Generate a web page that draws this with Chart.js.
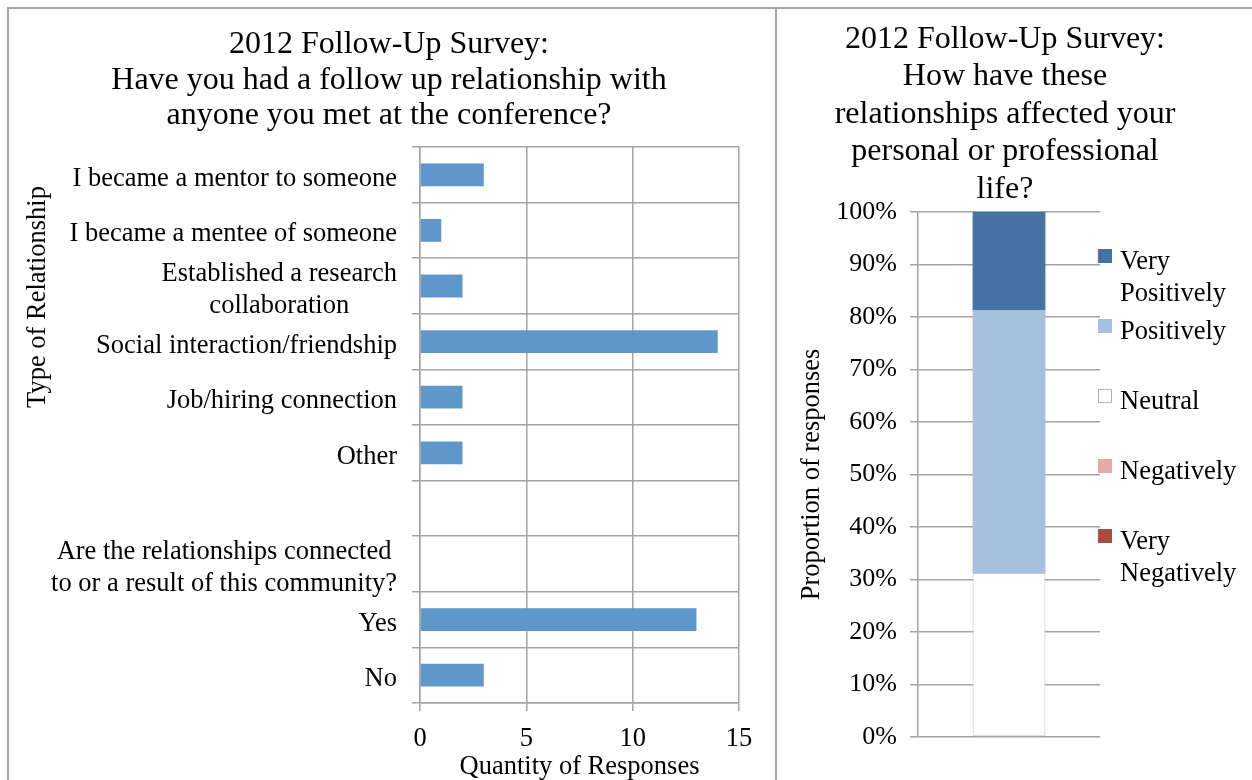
<!DOCTYPE html>
<html>
<head>
<meta charset="utf-8">
<script src="https://cdn.jsdelivr.net/npm/chart.js@4.4.1/dist/chart.umd.min.js"></script>
<style>
  body { margin: 0; background: #fff; }
  #page { position: absolute; left: 0; top: 0; width: 1252px; height: 780px; overflow: hidden; background: #fff; }
  .rule { position: absolute; background: #a6a6a6; }
  .box { position: absolute; }
  #legend { position: absolute; left: 0; top: 0; font-family: "Liberation Serif", "Times New Roman", serif; font-size: 26.5px; line-height: 32px; color: #000; }
  .item { position: absolute; left: 1098px; width: 150px; }
  .swatch { position: absolute; left: 0; top: 0; width: 14px; height: 14px; box-sizing: border-box; }
  .label { position: absolute; left: 22px; top: -5px; width: 126px; }
</style>
</head>
<body>
<div id="page">
  <div class="rule" style="left:7px; top:7px; width:1245px; height:2px"></div>
  <div class="rule" style="left:7px; top:7px; width:2px; height:773px"></div>
  <div class="rule" style="left:775px; top:7px; width:2px; height:773px"></div>
  <div class="box" style="left:11px; top:10px"><canvas id="leftChart" width="756" height="774"></canvas></div>
  <div class="box" style="left:778px; top:10px"><canvas id="rightChart" width="454" height="770"></canvas></div>
  <div id="legend"></div>
</div>
<script>
// ---- data: left chart (follow up relationships) ----
const categories = [
  ['I became a mentor to someone'],
  ['I became a mentee of someone'],
  ['Established a research', 'collaboration'],
  ['Social interaction/friendship'],
  ['Job/hiring connection'],
  ['Other'],
  [''],
  ['Are the relationships connected', 'to or a result of this community?'],
  ['Yes'],
  ['No']
];
const responseCounts = [3, 1, 2, 14, 2, 2, null, null, 13, 3];
const quantityTicks = [0, 5, 10, 15];

// ---- data: right chart (effect of relationships) ----
const ratingNames = ['Very Negatively', 'Negatively', 'Neutral', 'Positively', 'Very Positively'];
const ratingShares = [0, 0, 31.25, 50, 18.75];
const percentTicks = [0, 10, 20, 30, 40, 50, 60, 70, 80, 90, 100];

// colours per rating, same order as ratingNames
const ratingColors = ['#A94A47', '#E6A9A8', '#FFFFFF', '#A6C0E0', '#4673A5'];
const ratingBorders = ['#A94A47', '#E6A9A8', '#C4C4C4', '#A6C0E0', '#4673A5'];

const serif = '"Liberation Serif", "Times New Roman", serif';
const gridGray = '#a3a3a3';
Chart.defaults.font.family = serif;
Chart.defaults.color = '#000';

// draws the category labels of the left chart, lines centred on each other
const categoryLabels = {
  id: 'categoryLabels',
  afterDraw(chart) {
    const scale = chart.scales.y;
    const ctx = chart.ctx;
    const right = scale.right - 23;
    ctx.save();
    ctx.font = '26.5px ' + serif;
    ctx.fillStyle = '#000';
    ctx.textAlign = 'center';
    ctx.textBaseline = 'middle';
    categories.forEach((lines, i) => {
      const y = scale.getPixelForTick(i) + 4;
      const w = Math.max(...lines.map(l => ctx.measureText(l).width));
      const cx = right - w / 2;
      lines.forEach((line, j) => {
        ctx.fillText(line, cx, y + (j - (lines.length - 1) / 2) * 32);
      });
    });
    ctx.restore();
  }
};

// rotated axis title placed where the original has it
const sideTitle = {
  id: 'sideTitle',
  afterDraw(chart, args, opts) {
    const ctx = chart.ctx;
    ctx.save();
    ctx.translate(opts.x, opts.y);
    ctx.rotate(-Math.PI / 2);
    ctx.font = '26.5px ' + serif;
    ctx.fillStyle = '#000';
    ctx.textAlign = 'center';
    ctx.textBaseline = 'middle';
    ctx.fillText(opts.text, 0, 0);
    ctx.restore();
  }
};

new Chart(document.getElementById('leftChart'), {
  type: 'bar',
  data: {
    labels: categories.map(c => c.join(' ')),
    datasets: [{
      data: responseCounts,
      backgroundColor: '#6097CB',
      barPercentage: 0.41,
      categoryPercentage: 1
    }]
  },
  options: {
    indexAxis: 'y',
    responsive: false,
    animation: false,
    layout: { padding: 0 },
    plugins: {
      legend: { display: false },
      tooltip: { enabled: false },
      title: {
        display: true,
        text: ['2012 Follow-Up Survey:', 'Have you had a follow up relationship with', 'anyone you met at the conference?'],
        font: { size: 32, lineHeight: '35.5px', weight: 'normal' },
        color: '#000',
        padding: { top: 17, bottom: 13.5 }
      },
      sideTitle: { text: 'Type of Relationship', x: 27, y: 287 }
    },
    scales: {
      x: {
        min: quantityTicks[0],
        max: quantityTicks[quantityTicks.length - 1],
        afterBuildTicks: s => { s.ticks = quantityTicks.map(v => ({ value: v })); },
        grid: { color: gridGray, lineWidth: 1.5, tickLength: 8 },
        border: { color: gridGray, width: 1.5 },
        ticks: { font: { size: 26.5 }, padding: 12, color: '#000' },
        title: { display: true, text: 'Quantity of Responses', font: { size: 26.5 }, padding: { top: 0, bottom: 1 }, color: '#000' },
        afterFit: s => { s.height = 81; }
      },
      y: {
        grid: { color: gridGray, lineWidth: 1.5, tickLength: 8 },
        border: { color: gridGray, width: 1.5 },
        ticks: { display: false },
        afterFit: s => { s.width = 409; }
      },
      y2: {
        type: 'linear',
        position: 'right',
        grid: { display: false },
        border: { display: false },
        ticks: { display: false },
        afterFit: s => { s.width = 28; }
      }
    }
  },
  plugins: [categoryLabels, sideTitle]
});

new Chart(document.getElementById('rightChart'), {
  type: 'bar',
  data: {
    labels: [''],
    datasets: ratingNames.map((name, i) => ({
      label: name,
      data: [ratingShares[i]],
      backgroundColor: ratingColors[i],
      borderColor: ratingBorders[i],
      borderWidth: name === 'Neutral' ? 1 : 0,
      borderSkipped: false,
      barPercentage: 0.4,
      categoryPercentage: 1
    }))
  },
  options: {
    responsive: false,
    animation: false,
    layout: { padding: 0 },
    plugins: {
      legend: { display: false },
      tooltip: { enabled: false },
      title: {
        display: true,
        text: ['2012 Follow-Up Survey:', 'How have these', 'relationships affected your', 'personal or professional', 'life?'],
        font: { size: 32, lineHeight: '37.5px', weight: 'normal' },
        color: '#000',
        padding: { top: 10.5, bottom: 4 }
      }
    },
    scales: {
      x: {
        stacked: true,
        grid: { display: false },
        border: { display: false },
        ticks: { display: false },
        afterFit: s => { s.height = 43; }
      },
      y: {
        stacked: true,
        min: percentTicks[0],
        max: percentTicks[percentTicks.length - 1],
        afterBuildTicks: s => { s.ticks = percentTicks.map(v => ({ value: v })); },
        grid: { color: gridGray, lineWidth: 1.5, tickLength: 8 },
        border: { color: gridGray, width: 1.5 },
        ticks: { font: { size: 26 }, padding: 13, color: '#000', callback: v => v + '%' },
        title: { display: true, text: 'Proportion of responses', font: { size: 26.5 }, padding: { top: 18, bottom: 0 }, color: '#000' },
        afterFit: s => { s.width = 140; }
      },
      y2: {
        type: 'linear',
        position: 'right',
        grid: { display: false },
        border: { display: false },
        ticks: { display: false },
        afterFit: s => { s.width = 132; }
      }
    }
  }
});

// legend, top item is the last series (as stacked)
const legend = document.getElementById('legend');
ratingNames.slice().reverse().forEach((name, k) => {
  const i = ratingNames.length - 1 - k;
  const item = document.createElement('div');
  item.className = 'item';
  item.style.top = (249 + k * 70) + 'px';
  const sw = document.createElement('div');
  sw.className = 'swatch';
  sw.style.background = ratingColors[i];
  if (name === 'Neutral') sw.style.border = '1.5px solid #b0b0b0';
  const lab = document.createElement('div');
  lab.className = 'label';
  lab.textContent = name;
  item.appendChild(sw);
  item.appendChild(lab);
  legend.appendChild(item);
});
</script>
</body>
</html>
